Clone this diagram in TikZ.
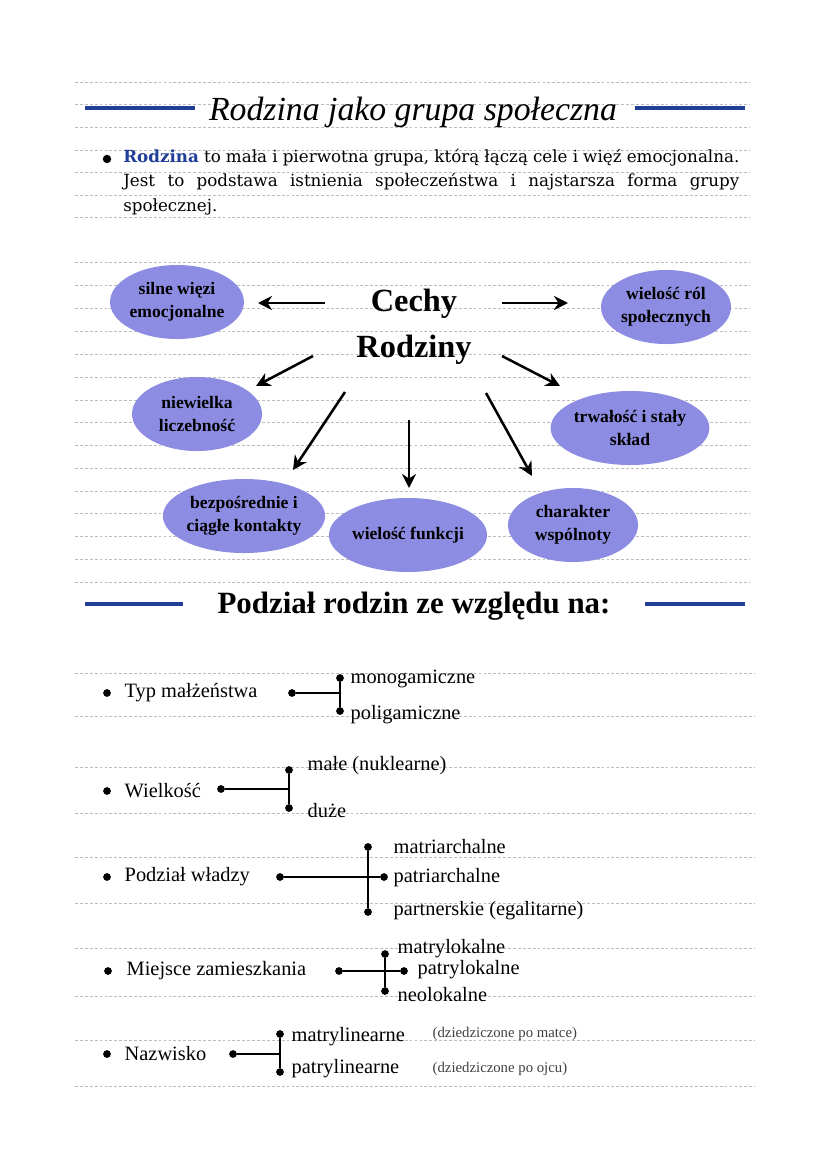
\documentclass[tikz,border=0pt]{standalone}
\usepackage{fontspec}
\setmainfont{Liberation Serif}
\newfontfamily\introfont{DejaVu Serif}
\usetikzlibrary{arrows.meta,shapes.geometric}
\definecolor{bl}{HTML}{1F3F99}
\definecolor{ell}{HTML}{8C8CE3}
\definecolor{rul}{HTML}{BBBBBB}
\begin{document}
\begin{tikzpicture}[x=0.025cm,y=-0.025cm,
  rule/.style={rul,dashed,line width=0.5pt,dash pattern=on 2pt off 1.5pt},
  blbar/.style={bl,line width=3pt},
  oval/.style={ellipse,fill=ell,draw=none,minimum width=3.25cm,minimum height=1.85cm,align=center,font=\bfseries\fontsize{12.5}{16}\selectfont,inner sep=0pt},
  arr/.style={-{Stealth[length=10pt,width=10pt]},line width=1.8pt},
  lbl/.style={anchor=west,font=\fontsize{14.5}{16}\selectfont,inner sep=1pt},
  dotc/.style={circle,fill=black,inner sep=0pt,minimum size=5.5pt},
  con/.style={line width=1.5pt}]
\useasboundingbox (0,0) rectangle (828,1171);
\fill[white] (0,0) rectangle (828,1171);
% dashed rules
\foreach \y in {82,104,127,150,172,195,217,262,285,308,331,354,377,400,422,445,468,491,513,536,559,582}
  \draw[rule] (75,\y) -- (750,\y);
\foreach \y in {673,716,767,813,857,903,948,996,1040,1086}
  \draw[rule] (75,\y) -- (755,\y);
% title
\draw[blbar] (85,108) -- (195,108);
\draw[blbar] (635,108) -- (745,108);
\node (title) at (413,112) {\itshape\fontsize{24}{28}\selectfont Rodzina jako grupa społeczna};
\node[circle,fill=black,inner sep=0pt,minimum size=6pt] (b0) at (107,159) {};
\node[anchor=north west,text width=15.4cm,align=justify,font=\introfont\fontsize{11.9}{17.2}\selectfont,inner sep=0pt] (intro) at (123,149)
 {\textcolor{bl}{\bfseries Rodzina} to mała i pierwotna grupa, którą łączą cele i więź \mbox{emocjonalna.} Jest to podstawa istnienia społeczeństwa i najstarsza forma grupy \mbox{społecznej.}};
% center
\node[align=center,font=\bfseries\fontsize{23}{33}\selectfont] (c) at (414,327) {Cechy\\Rodziny};
\node[oval] (e1) at (177,302) {silne więzi\\emocjonalne};
\node[oval] (e2) at (666,307) {wielość ról\\społecznych};
\node[oval] (e3) at (197,414) {niewielka\\liczebność};
\node[oval] (e4) at (630,428) {trwałość i stały\\skład};
\node[oval] (e5) at (244,516) {bezpośrednie i\\ciągłe kontakty};
\node[oval] (e6) at (408,535) {wielość funkcji};
\node[oval] (e7) at (573,525) {charakter\\wspólnoty};
\coordinate (s1) at (325,303); \coordinate (t1) at (258,303);
\coordinate (s2) at (502,303); \coordinate (t2) at (568,303);
\coordinate (s3) at (313,356); \coordinate (t3) at (256,386);
\coordinate (s4) at (502,356); \coordinate (t4) at (560,386);
\coordinate (s5) at (345,392); \coordinate (t5) at (293,470);
\coordinate (s6) at (409,420); \coordinate (t6) at (409,488);
\coordinate (s7) at (486,393); \coordinate (t7) at (532,476);
\foreach \i in {1,...,7} \draw[arr] (s\i) -- (t\i);
% section 2
\draw[blbar] (85,604) -- (183,604);
\draw[blbar] (645,604) -- (745,604);
\node[font=\bfseries\fontsize{22}{25}\selectfont] (h2) at (414,606) {Podział rodzin ze względu na:};
% Typ
\node[dotc] at (107,693) {};
\node[lbl] (a) at (123,693) {Typ małżeństwa};
\node[dotc] (ad) at (292,693) {};
\node[dotc] (a1) at (340,678) {}; \node[dotc] (a2) at (340,711) {};
\coordinate (aj) at (340,693);
\draw[con] (ad) -- (aj); \draw[con] (a1) -- (a2);
\node[lbl] at (349,679) {monogamiczne};
\node[lbl] at (349,715) {poligamiczne};
% Wielkosc
\node[dotc] at (107,791) {};
\node[lbl] (b) at (123,791) {Wielkość};
\node[dotc] (bd) at (221,789) {};
\node[dotc] (b1) at (289,770) {}; \node[dotc] (b2) at (289,808) {};
\coordinate (bj) at (289,789);
\draw[con] (bd) -- (bj); \draw[con] (b1) -- (b2);
\node[lbl] at (306,766) {małe (nuklearne)};
\node[lbl] at (306,811) {duże};
% Podzial
\node[dotc] at (107,877) {};
\node[lbl] (c2) at (123,877) {Podział władzy};
\node[dotc] (cd) at (280,877) {};
\node[dotc] (c1) at (368,847) {}; \node[dotc] (c3) at (368,912) {};
\node[dotc] (cm) at (384,877) {};
\draw[con] (cd) -- (cm); \draw[con] (c1) -- (c3);
\node[lbl] at (392,847) {matriarchalne};
\node[lbl] at (392,878) {patriarchalne};
\node[lbl] at (392,911) {partnerskie (egalitarne)};
% Miejsce
\node[dotc] at (108,971) {};
\node[lbl] (d) at (125,971) {Miejsce zamieszkania};
\node[dotc] (dd) at (339,971) {};
\node[dotc] (d1) at (385,954) {}; \node[dotc] (d3) at (385,991) {};
\node[dotc] (dm) at (404,971) {};
\draw[con] (dd) -- (dm); \draw[con] (d1) -- (d3);
\node[lbl] at (396,949) {matrylokalne};
\node[lbl] at (416,970) {patrylokalne};
\node[lbl] at (396,995) {neolokalne};
% Nazwisko
\node[dotc] at (107,1054) {};
\node[lbl] (e) at (123,1054) {Nazwisko};
\node[dotc] (ed) at (233,1054) {};
\node[dotc] (e1b) at (280,1034) {}; \node[dotc] (e2b) at (280,1072) {};
\coordinate (ej) at (280,1054);
\draw[con] (ed) -- (ej); \draw[con] (e1b) -- (e2b);
\node[lbl] at (290,1037) {matrylinearne};
\node[lbl] at (290,1069) {patrylinearne};
\node[lbl,font=\fontsize{10.5}{12}\selectfont,text=black!75] at (431,1034) {(dziedziczone po matce)};
\node[lbl,font=\fontsize{10.5}{12}\selectfont,text=black!75] at (431,1069) {(dziedziczone po ojcu)};
\end{tikzpicture}
\end{document}
